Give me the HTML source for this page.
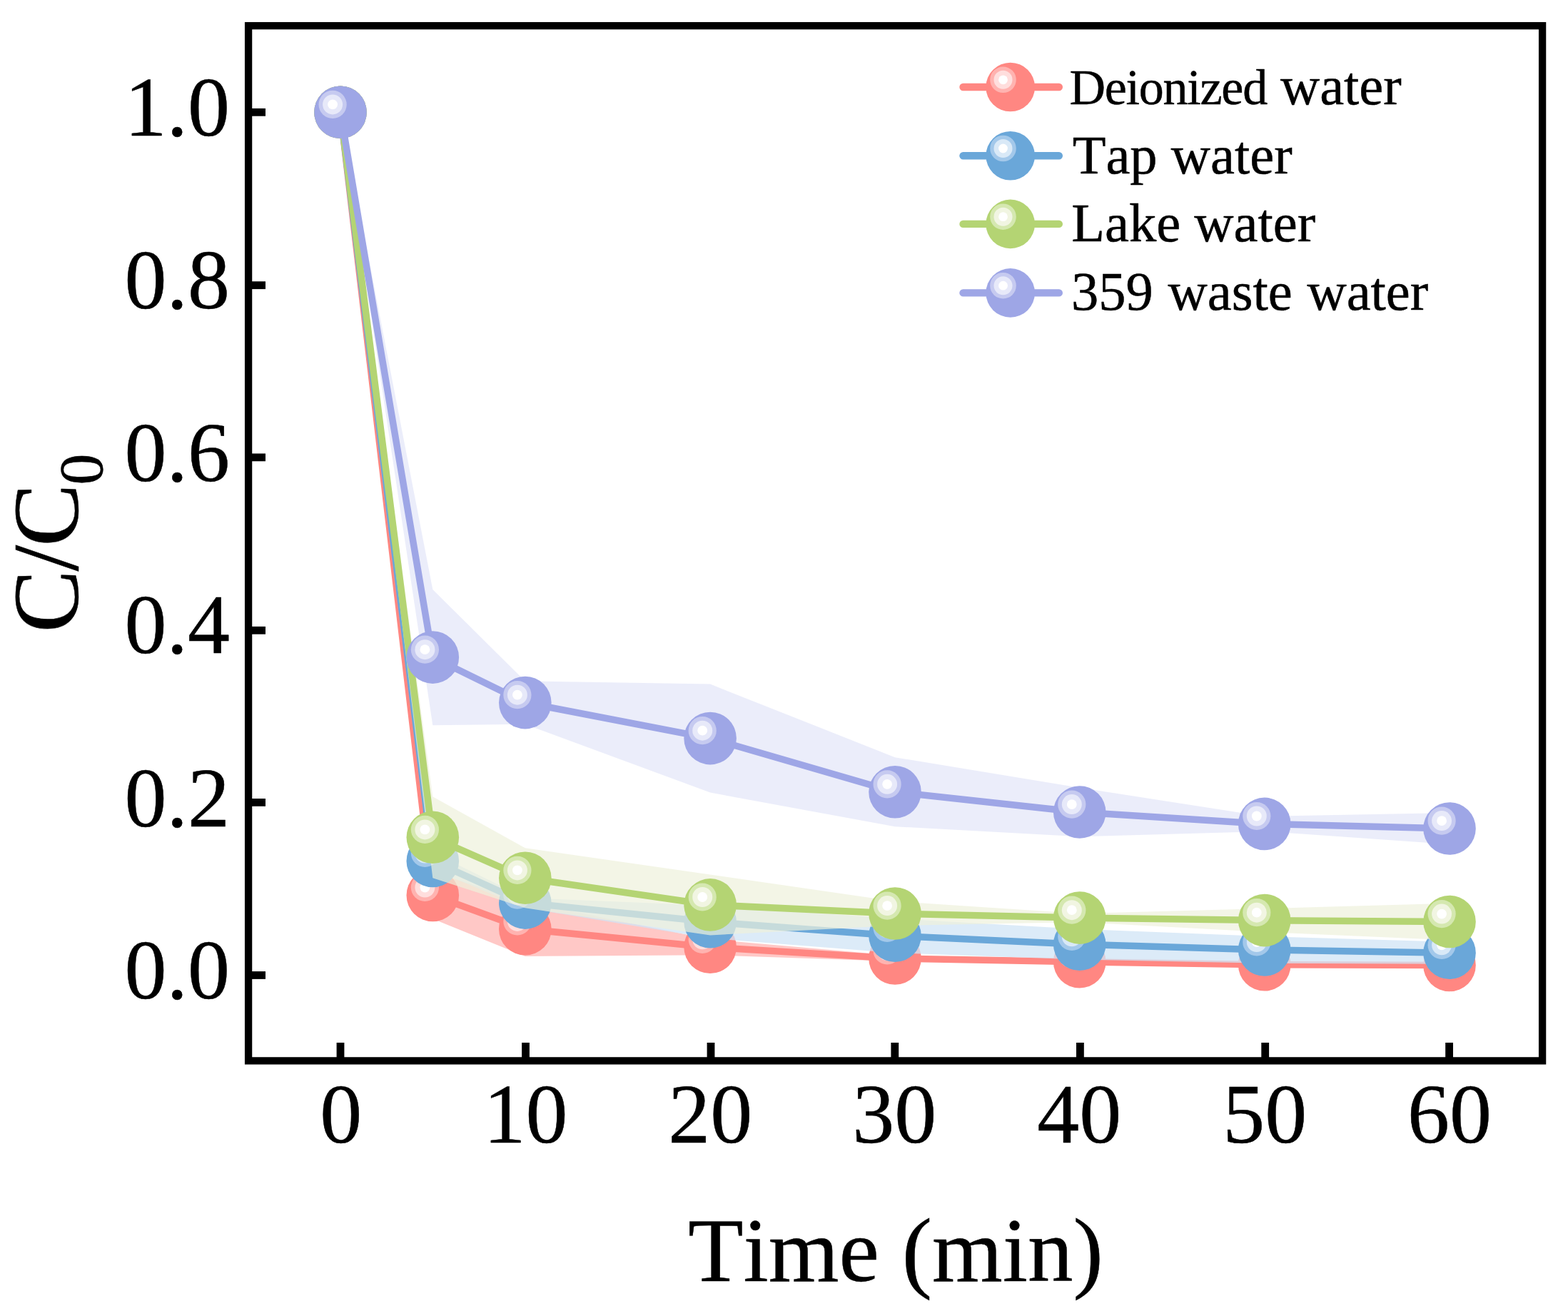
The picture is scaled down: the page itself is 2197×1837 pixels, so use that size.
<!DOCTYPE html>
<html lang="en">
<head>
<meta charset="utf-8">
<title>C/C0 vs Time (min)</title>
<style>
html,body{margin:0;padding:0;background:#fff;}
body{width:2197px;height:1837px;overflow:hidden;}
svg{display:block;}
text{font-family:"Liberation Serif",serif;fill:#000;stroke:#000;stroke-width:0.5px;stroke-linejoin:round;font-kerning:none;font-variant-ligatures:none;}
</style>
</head>
<body>
<svg width="2197" height="1837" viewBox="0 0 2197 1837">
<rect x="0" y="0" width="2197" height="1837" fill="#fff"/>
<g id="plot">
<g class="series red">
<polygon points="477,157.3 606.3,1221.4 735.8,1263.6 995.1,1316.2 1254,1338.9 1512.7,1345.2 1771.7,1348.3 2031,1348.9 2031,1355.9 1771.7,1355.3 1512.7,1350.2 1254,1346.9 995.1,1338.2 735.8,1340 606.3,1287.4 477,157.3" fill="rgba(255,190,188,0.85)"/>
<polyline points="477,157.3 606.3,1254.4 735.8,1301.8 995.1,1327.2 1254,1342.9 1512.7,1347.7 1771.7,1351.8 2031,1352.4" fill="none" stroke="#ff8782" stroke-width="9.5" stroke-linejoin="round"/>
<circle cx="477" cy="157.3" r="36.8" fill="#ff8782"/><circle cx="466.1" cy="146.4" r="19.6" fill="#ffb3b0"/><circle cx="466.1" cy="146.4" r="14" fill="#ffdedd"/><circle cx="466.1" cy="146.4" r="6.9" fill="#fff"/>
<circle cx="606.3" cy="1254.4" r="36.8" fill="#ff8782"/><circle cx="595.4" cy="1243.5" r="19.6" fill="#ffb3b0"/><circle cx="595.4" cy="1243.5" r="14" fill="#ffdedd"/><circle cx="595.4" cy="1243.5" r="6.9" fill="#fff"/>
<circle cx="735.8" cy="1301.8" r="36.8" fill="#ff8782"/><circle cx="724.9" cy="1290.9" r="19.6" fill="#ffb3b0"/><circle cx="724.9" cy="1290.9" r="14" fill="#ffdedd"/><circle cx="724.9" cy="1290.9" r="6.9" fill="#fff"/>
<circle cx="995.1" cy="1327.2" r="36.8" fill="#ff8782"/><circle cx="984.2" cy="1316.3" r="19.6" fill="#ffb3b0"/><circle cx="984.2" cy="1316.3" r="14" fill="#ffdedd"/><circle cx="984.2" cy="1316.3" r="6.9" fill="#fff"/>
<circle cx="1254" cy="1342.9" r="36.8" fill="#ff8782"/><circle cx="1243.1" cy="1332" r="19.6" fill="#ffb3b0"/><circle cx="1243.1" cy="1332" r="14" fill="#ffdedd"/><circle cx="1243.1" cy="1332" r="6.9" fill="#fff"/>
<circle cx="1512.7" cy="1347.7" r="36.8" fill="#ff8782"/><circle cx="1501.8" cy="1336.8" r="19.6" fill="#ffb3b0"/><circle cx="1501.8" cy="1336.8" r="14" fill="#ffdedd"/><circle cx="1501.8" cy="1336.8" r="6.9" fill="#fff"/>
<circle cx="1771.7" cy="1351.8" r="36.8" fill="#ff8782"/><circle cx="1760.8" cy="1340.9" r="19.6" fill="#ffb3b0"/><circle cx="1760.8" cy="1340.9" r="14" fill="#ffdedd"/><circle cx="1760.8" cy="1340.9" r="6.9" fill="#fff"/>
<circle cx="2031" cy="1352.4" r="36.8" fill="#ff8782"/><circle cx="2020.1" cy="1341.5" r="19.6" fill="#ffb3b0"/><circle cx="2020.1" cy="1341.5" r="14" fill="#ffdedd"/><circle cx="2020.1" cy="1341.5" r="6.9" fill="#fff"/>
</g>
<g class="series blue">
<polygon points="477,157.3 606.3,1194.4 735.8,1258.1 995.1,1268.8 1254,1287.2 1512.7,1301.8 1771.7,1312 2031,1319.7 2031,1350.7 1771.7,1349.8 1512.7,1344.6 1254,1335.2 995.1,1314.8 735.8,1272.1 606.3,1218.4 477,157.3" fill="rgba(208,228,246,0.75)"/>
<polyline points="477,157.3 606.3,1206.4 735.8,1265.1 995.1,1291.8 1254,1311.2 1512.7,1323.2 1771.7,1330.9 2031,1335.2" fill="none" stroke="#6aa7d9" stroke-width="9.5" stroke-linejoin="round"/>
<circle cx="477" cy="157.3" r="36.8" fill="#6aa7d9"/><circle cx="466.1" cy="146.4" r="19.6" fill="#a3c8ea"/><circle cx="466.1" cy="146.4" r="14" fill="#d9e9f7"/><circle cx="466.1" cy="146.4" r="6.9" fill="#fff"/>
<circle cx="606.3" cy="1206.4" r="36.8" fill="#6aa7d9"/><circle cx="595.4" cy="1195.5" r="19.6" fill="#a3c8ea"/><circle cx="595.4" cy="1195.5" r="14" fill="#d9e9f7"/><circle cx="595.4" cy="1195.5" r="6.9" fill="#fff"/>
<circle cx="735.8" cy="1265.1" r="36.8" fill="#6aa7d9"/><circle cx="724.9" cy="1254.2" r="19.6" fill="#a3c8ea"/><circle cx="724.9" cy="1254.2" r="14" fill="#d9e9f7"/><circle cx="724.9" cy="1254.2" r="6.9" fill="#fff"/>
<circle cx="995.1" cy="1291.8" r="36.8" fill="#6aa7d9"/><circle cx="984.2" cy="1280.9" r="19.6" fill="#a3c8ea"/><circle cx="984.2" cy="1280.9" r="14" fill="#d9e9f7"/><circle cx="984.2" cy="1280.9" r="6.9" fill="#fff"/>
<circle cx="1254" cy="1311.2" r="36.8" fill="#6aa7d9"/><circle cx="1243.1" cy="1300.3" r="19.6" fill="#a3c8ea"/><circle cx="1243.1" cy="1300.3" r="14" fill="#d9e9f7"/><circle cx="1243.1" cy="1300.3" r="6.9" fill="#fff"/>
<circle cx="1512.7" cy="1323.2" r="36.8" fill="#6aa7d9"/><circle cx="1501.8" cy="1312.3" r="19.6" fill="#a3c8ea"/><circle cx="1501.8" cy="1312.3" r="14" fill="#d9e9f7"/><circle cx="1501.8" cy="1312.3" r="6.9" fill="#fff"/>
<circle cx="1771.7" cy="1330.9" r="36.8" fill="#6aa7d9"/><circle cx="1760.8" cy="1320" r="19.6" fill="#a3c8ea"/><circle cx="1760.8" cy="1320" r="14" fill="#d9e9f7"/><circle cx="1760.8" cy="1320" r="6.9" fill="#fff"/>
<circle cx="2031" cy="1335.2" r="36.8" fill="#6aa7d9"/><circle cx="2020.1" cy="1324.3" r="19.6" fill="#a3c8ea"/><circle cx="2020.1" cy="1324.3" r="14" fill="#d9e9f7"/><circle cx="2020.1" cy="1324.3" r="6.9" fill="#fff"/>
</g>
<g class="series green">
<polygon points="477,157.3 606.3,1116.3 735.8,1188.3 995.1,1225.4 1254,1263 1512.7,1280.1 1771.7,1273.1 2031,1265.7 2031,1317.3 1771.7,1306.1 1512.7,1292.1 1254,1297 995.1,1310.4 735.8,1272.3 606.3,1230.3 477,157.3" fill="rgba(238,241,219,0.70)"/>
<polyline points="477,157.3 606.3,1173.3 735.8,1230.3 995.1,1267.9 1254,1280 1512.7,1286.1 1771.7,1289.6 2031,1291.5" fill="none" stroke="#b4d473" stroke-width="9.5" stroke-linejoin="round"/>
<circle cx="477" cy="157.3" r="36.8" fill="#b4d473"/><circle cx="466.1" cy="146.4" r="19.6" fill="#d5e8b0"/><circle cx="466.1" cy="146.4" r="14" fill="#f1f5e2"/><circle cx="466.1" cy="146.4" r="6.9" fill="#fff"/>
<circle cx="606.3" cy="1173.3" r="36.8" fill="#b4d473"/><circle cx="595.4" cy="1162.4" r="19.6" fill="#d5e8b0"/><circle cx="595.4" cy="1162.4" r="14" fill="#f1f5e2"/><circle cx="595.4" cy="1162.4" r="6.9" fill="#fff"/>
<circle cx="735.8" cy="1230.3" r="36.8" fill="#b4d473"/><circle cx="724.9" cy="1219.4" r="19.6" fill="#d5e8b0"/><circle cx="724.9" cy="1219.4" r="14" fill="#f1f5e2"/><circle cx="724.9" cy="1219.4" r="6.9" fill="#fff"/>
<circle cx="995.1" cy="1267.9" r="36.8" fill="#b4d473"/><circle cx="984.2" cy="1257" r="19.6" fill="#d5e8b0"/><circle cx="984.2" cy="1257" r="14" fill="#f1f5e2"/><circle cx="984.2" cy="1257" r="6.9" fill="#fff"/>
<circle cx="1254" cy="1280" r="36.8" fill="#b4d473"/><circle cx="1243.1" cy="1269.1" r="19.6" fill="#d5e8b0"/><circle cx="1243.1" cy="1269.1" r="14" fill="#f1f5e2"/><circle cx="1243.1" cy="1269.1" r="6.9" fill="#fff"/>
<circle cx="1512.7" cy="1286.1" r="36.8" fill="#b4d473"/><circle cx="1501.8" cy="1275.2" r="19.6" fill="#d5e8b0"/><circle cx="1501.8" cy="1275.2" r="14" fill="#f1f5e2"/><circle cx="1501.8" cy="1275.2" r="6.9" fill="#fff"/>
<circle cx="1771.7" cy="1289.6" r="36.8" fill="#b4d473"/><circle cx="1760.8" cy="1278.7" r="19.6" fill="#d5e8b0"/><circle cx="1760.8" cy="1278.7" r="14" fill="#f1f5e2"/><circle cx="1760.8" cy="1278.7" r="6.9" fill="#fff"/>
<circle cx="2031" cy="1291.5" r="36.8" fill="#b4d473"/><circle cx="2020.1" cy="1280.6" r="19.6" fill="#d5e8b0"/><circle cx="2020.1" cy="1280.6" r="14" fill="#f1f5e2"/><circle cx="2020.1" cy="1280.6" r="6.9" fill="#fff"/>
</g>
<g class="series purple">
<polygon points="477,157.3 606.3,825.9 735.8,954.4 995.1,958.6 1254,1061.2 1512.7,1103.7 1771.7,1143.9 2031,1139.1 2031,1182.9 1771.7,1164.9 1512.7,1172.3 1254,1158.2 995.1,1110.6 735.8,1014.8 606.3,1016.3 477,157.3" fill="rgba(228,231,248,0.75)"/>
<polyline points="477,157.3 606.3,921.1 735.8,984.6 995.1,1034.6 1254,1109.7 1512.7,1138 1771.7,1154.4 2031,1161" fill="none" stroke="#9ea6e6" stroke-width="9.5" stroke-linejoin="round"/>
<circle cx="477" cy="157.3" r="36.8" fill="#9ea6e6"/><circle cx="466.1" cy="146.4" r="19.6" fill="#c6caf0"/><circle cx="466.1" cy="146.4" r="14" fill="#e7e9f9"/><circle cx="466.1" cy="146.4" r="6.9" fill="#fff"/>
<circle cx="606.3" cy="921.1" r="36.8" fill="#9ea6e6"/><circle cx="595.4" cy="910.2" r="19.6" fill="#c6caf0"/><circle cx="595.4" cy="910.2" r="14" fill="#e7e9f9"/><circle cx="595.4" cy="910.2" r="6.9" fill="#fff"/>
<circle cx="735.8" cy="984.6" r="36.8" fill="#9ea6e6"/><circle cx="724.9" cy="973.7" r="19.6" fill="#c6caf0"/><circle cx="724.9" cy="973.7" r="14" fill="#e7e9f9"/><circle cx="724.9" cy="973.7" r="6.9" fill="#fff"/>
<circle cx="995.1" cy="1034.6" r="36.8" fill="#9ea6e6"/><circle cx="984.2" cy="1023.7" r="19.6" fill="#c6caf0"/><circle cx="984.2" cy="1023.7" r="14" fill="#e7e9f9"/><circle cx="984.2" cy="1023.7" r="6.9" fill="#fff"/>
<circle cx="1254" cy="1109.7" r="36.8" fill="#9ea6e6"/><circle cx="1243.1" cy="1098.8" r="19.6" fill="#c6caf0"/><circle cx="1243.1" cy="1098.8" r="14" fill="#e7e9f9"/><circle cx="1243.1" cy="1098.8" r="6.9" fill="#fff"/>
<circle cx="1512.7" cy="1138" r="36.8" fill="#9ea6e6"/><circle cx="1501.8" cy="1127.1" r="19.6" fill="#c6caf0"/><circle cx="1501.8" cy="1127.1" r="14" fill="#e7e9f9"/><circle cx="1501.8" cy="1127.1" r="6.9" fill="#fff"/>
<circle cx="1771.7" cy="1154.4" r="36.8" fill="#9ea6e6"/><circle cx="1760.8" cy="1143.5" r="19.6" fill="#c6caf0"/><circle cx="1760.8" cy="1143.5" r="14" fill="#e7e9f9"/><circle cx="1760.8" cy="1143.5" r="6.9" fill="#fff"/>
<circle cx="2031" cy="1161" r="36.8" fill="#9ea6e6"/><circle cx="2020.1" cy="1150.1" r="19.6" fill="#c6caf0"/><circle cx="2020.1" cy="1150.1" r="14" fill="#e7e9f9"/><circle cx="2020.1" cy="1150.1" r="6.9" fill="#fff"/>
</g>
</g>
<g id="axes" fill="#000">
<rect x="348.1" y="36.1" width="1813" height="1450.3" fill="none" stroke="#000" stroke-width="10.3"/>
<rect x="350.3" y="151.9" width="21.7" height="10.8"/>
<rect x="350.3" y="394.3" width="21.7" height="10.8"/>
<rect x="350.3" y="635.5" width="21.7" height="10.8"/>
<rect x="350.3" y="877.9" width="21.7" height="10.8"/>
<rect x="350.3" y="1119" width="21.7" height="10.8"/>
<rect x="350.3" y="1361.1" width="21.7" height="10.8"/>
<rect x="471.6" y="1461" width="10.8" height="23.3"/>
<rect x="731.1" y="1461" width="10.8" height="23.3"/>
<rect x="990.6" y="1461" width="10.8" height="23.3"/>
<rect x="1248.4" y="1461" width="10.8" height="23.3"/>
<rect x="1508" y="1461" width="10.8" height="23.3"/>
<rect x="1767.3" y="1461" width="10.8" height="23.3"/>
<rect x="2025.2" y="1461" width="10.8" height="23.3"/>
</g>
<g id="ticklabels" font-size="118">
<text x="322" y="190.4" text-anchor="end">1.0</text>
<text x="322" y="431.9" text-anchor="end">0.8</text>
<text x="322" y="673.8" text-anchor="end">0.6</text>
<text x="322" y="914.9" text-anchor="end">0.4</text>
<text x="322" y="1157.9" text-anchor="end">0.2</text>
<text x="322" y="1398.9" text-anchor="end">0.0</text>
<text x="477.8" y="1601" text-anchor="middle">0</text>
<text x="736.4" y="1601" text-anchor="middle">10</text>
<text x="995.2" y="1601" text-anchor="middle">20</text>
<text x="1253.3" y="1601" text-anchor="middle">30</text>
<text x="1512.2" y="1601" text-anchor="middle">40</text>
<text x="1772.3" y="1601" text-anchor="middle">50</text>
<text x="2031.1" y="1601" text-anchor="middle">60</text>
</g>
<text x="1254.9" y="1795" font-size="127" text-anchor="middle">Time (min)</text>
<text transform="translate(109.1 886.6) rotate(-90)" font-size="132" letter-spacing="-1.9">C/C<tspan font-size="87.5" dy="33.5" letter-spacing="0">0</tspan></text>
<g id="legend">
<line x1="1349.5" y1="122" x2="1483.8" y2="122" stroke="#ff8782" stroke-width="10.4" stroke-linecap="round"/>
<circle cx="1415.7" cy="122" r="34.3" fill="#ff8782"/><circle cx="1405.5" cy="111.8" r="18.3" fill="#ffb3b0"/><circle cx="1405.5" cy="111.8" r="13" fill="#ffdedd"/><circle cx="1405.5" cy="111.8" r="6.4" fill="#fff"/>
<text x="1498.5" y="145.7" font-size="76.5"><tspan font-size="70" letter-spacing="-1.25">Deionized</tspan> <tspan x="1793.9">water</tspan></text>
<line x1="1349.5" y1="218.2" x2="1483.8" y2="218.2" stroke="#6aa7d9" stroke-width="10.4" stroke-linecap="round"/>
<circle cx="1415.7" cy="218.2" r="34.3" fill="#6aa7d9"/><circle cx="1405.5" cy="208" r="18.3" fill="#a3c8ea"/><circle cx="1405.5" cy="208" r="13" fill="#d9e9f7"/><circle cx="1405.5" cy="208" r="6.4" fill="#fff"/>
<text x="1502.7" y="243.2" font-size="76.5">Tap water</text>
<line x1="1349.5" y1="313.9" x2="1483.8" y2="313.9" stroke="#b4d473" stroke-width="10.4" stroke-linecap="round"/>
<circle cx="1415.7" cy="313.9" r="34.3" fill="#b4d473"/><circle cx="1405.5" cy="303.7" r="18.3" fill="#d5e8b0"/><circle cx="1405.5" cy="303.7" r="13" fill="#f1f5e2"/><circle cx="1405.5" cy="303.7" r="6.4" fill="#fff"/>
<text x="1501.3" y="337.9" font-size="76.5">Lake water</text>
<line x1="1349.5" y1="410.4" x2="1483.8" y2="410.4" stroke="#9ea6e6" stroke-width="10.4" stroke-linecap="round"/>
<circle cx="1415.7" cy="410.4" r="34.3" fill="#9ea6e6"/><circle cx="1405.5" cy="400.2" r="18.3" fill="#c6caf0"/><circle cx="1405.5" cy="400.2" r="13" fill="#e7e9f9"/><circle cx="1405.5" cy="400.2" r="6.4" fill="#fff"/>
<text x="1501" y="434" font-size="76.5" word-spacing="1.6">359 waste water</text>
</g>
</svg>
</body>
</html>
